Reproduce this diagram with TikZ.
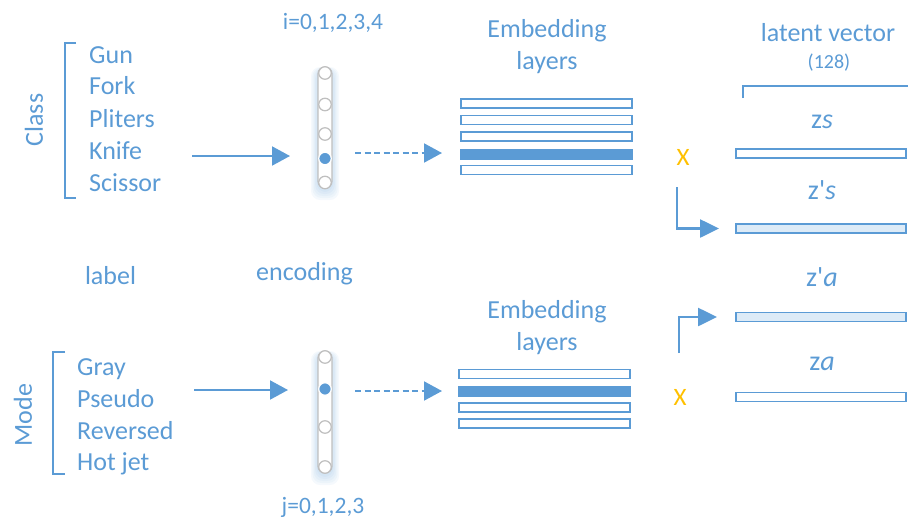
\documentclass[tikz,border=0pt]{standalone}
\usepackage{fontspec}
\setmainfont{Carlito}[Ligatures=TeXOff]
\usetikzlibrary{arrows.meta}
\definecolor{accent}{HTML}{5B9BD5}
\definecolor{lightfill}{HTML}{DDEBF7}
\definecolor{markx}{HTML}{FFC000}
\definecolor{ringgray}{HTML}{BFBFBF}
\begin{document}
\begin{tikzpicture}[x=1pt,y=-1pt,
  txt/.style={text=accent, font=\fontsize{26}{30}\selectfont, inner sep=0pt},
  smalltxt/.style={text=accent, font=\fontsize{23.5}{28}\selectfont, inner sep=0pt},
  ztxt/.style={text=accent, font=\fontsize{28}{32}\selectfont, inner sep=0pt},
  xmark/.style={text=markx, font=\fontsize{25}{30}\selectfont, inner sep=0pt},
  bracket/.style={draw=accent, line width=1.6pt},
  bar/.style={draw=accent, line width=1.5pt, fill=white, inner sep=0pt, outer sep=0pt, minimum height=9pt},
  hotbar/.style={draw=accent, line width=0.5pt, fill=accent, inner sep=0pt, outer sep=0pt, minimum height=10pt},
  latbar/.style={draw=accent, line width=1.5pt, fill=white, inner sep=0pt, outer sep=0pt, minimum width=170pt, minimum height=9pt},
  latbarfill/.style={latbar, fill=lightfill},
  column/.style={draw=ringgray, line width=1.3pt, fill=white, rounded corners=7pt, inner sep=0pt, minimum width=14pt},
  ring/.style={circle, draw=ringgray, line width=1.2pt, fill=white, inner sep=0pt, minimum size=12.5pt},
  ringon/.style={ring, fill=accent, draw=white},
  feed/.style={draw=accent, line width=2pt, -{Triangle[length=18pt, width=19pt]}},
  dashfeed/.style={feed, dash pattern=on 6pt off 3.5pt},
  elbow/.style={draw=accent, line width=2.6pt, -{Triangle[length=19pt, width=18pt]}},
]
\useasboundingbox (0,0) rectangle (908,528);

% ---------- class branch ----------
\node[txt, rotate=90] (classlbl) at (34,120) {Class};
\draw[bracket] (76,43) -- (65,43) -- (65,198) -- (76,198);
\node[txt, anchor=base west] (gun)     at (89,63.3)  {Gun};
\node[txt, anchor=base west] (fork)    at (89,94.8)  {Fork};
\node[txt, anchor=base west] (pliters) at (89,127.3) {Pliters};
\node[txt, anchor=base west] (knife)   at (89,159.3) {Knife};
\node[txt, anchor=base west] (scissor) at (89,191.7) {Scissor};

% one-hot encoding column (i), with a soft blue glow behind it
\foreach \k in {1,...,5}
  \fill[accent, opacity=0.06, rounded corners=9pt]
    (325-7-\k*1.4, 70-\k*0.6) rectangle (325+7+\k*1.4, 190+\k*2);
\node[column, minimum height=121pt] (enc1) at (325,127.5) {};
\node[ring]   (i0) at (325,73)  {};
\node[ring]   (i1) at (325,104.5) {};
\node[ring]   (i2) at (325,134) {};
\node[ringon] (i3) at (325,158.5) {};
\node[ring]   (i4) at (325,182.5) {};
\node[smalltxt, anchor=base] (ilbl) at (333,29) {i=0,1,2,3,4};

\coordinate (s1) at (192,156);
\coordinate (s1e) at (290,156);
\draw[feed] (s1) -- (s1e);
\coordinate (d1) at (355,153);
\coordinate (d1e) at (442,153);
\draw[dashfeed] (d1) -- (d1e);

% embedding table (class)
\node[txt, anchor=base] (emb1a) at (547,37.3) {Embedding};
\node[txt, anchor=base] (emb1b) at (547,69)   {layers};
\node[bar, minimum width=171pt] (e10) at (546.5,103.5) {};
\node[bar, minimum width=171pt] (e11) at (546.5,120)   {};
\node[bar, minimum width=171pt] (e12) at (546.5,136.5) {};
\node[hotbar, minimum width=172pt] (e13) at (546.5,154) {};
\node[bar, minimum width=171pt] (e14) at (546.5,170)   {};

% ---------- latent vectors ----------
\node[txt, anchor=base] (latent) at (828,41) {latent vector};
\node[text=accent, font=\fontsize{20}{24}\selectfont, inner sep=0pt, anchor=base] (dim) at (829,68) {(128)};
\draw[bracket] (743,98) -- (743,86) -- (908,86);

\node[xmark, anchor=base] (x1) at (683,165) {X};
\node[ztxt, anchor=base] (zslbl)  at (822,128.3) {z\textit{s}};
\node[latbar] (zs) at (821,153.5) {};
\node[ztxt, anchor=base] (zpslbl) at (822,199.3) {z'\textit{s}};
\node[latbarfill] (zps) at (821,228.5) {};
\coordinate (t1) at (677,187);
\draw[elbow] (t1) |- ([xshift=-17pt]zps.west);

\node[ztxt, anchor=base] (zpalbl) at (822,286.7) {z'\textit{a}};
\node[latbarfill] (zpa) at (821,317) {};
\node[ztxt, anchor=base] (zalbl)  at (822,370) {z\textit{a}};
\node[latbar] (za) at (821,397) {};
\node[xmark, anchor=base] (x2) at (680,405.7) {X};
\coordinate (t2) at (679,353);
\draw[elbow] (t2) |- ([xshift=-19pt]zpa.west);

% ---------- captions ----------
\node[txt, anchor=base] (labelcap) at (110.5,284) {label};
\node[txt, anchor=base] (enccap)   at (304.5,280.7) {encoding};

% ---------- mode branch ----------
\node[txt, rotate=90] (modelbl) at (23,415) {Mode};
\draw[bracket] (65,352) -- (53,352) -- (53,474) -- (65,474);
\node[txt, anchor=base west] (gray)     at (77,375)   {Gray};
\node[txt, anchor=base west] (pseudo)   at (77,407.3) {Pseudo};
\node[txt, anchor=base west] (reversed) at (77,439.3) {Reversed};
\node[txt, anchor=base west] (hotjet)   at (77,470.7) {Hot jet};

% one-hot encoding column (j), with a soft blue glow behind it
\foreach \k in {1,...,5}
  \fill[accent, opacity=0.06, rounded corners=9pt]
    (325-7-\k*1.4, 354-\k*0.6) rectangle (325+7+\k*1.4, 475+\k*2);
\node[column, minimum height=122pt] (enc2) at (325,412) {};
\node[ring]   (j0) at (325,357) {};
\node[ringon] (j1) at (325,389) {};
\node[ring]   (j2) at (325,427) {};
\node[ring]   (j3) at (325,467) {};
\node[smalltxt, anchor=base] (jlbl) at (323,513.5) {j=0,1,2,3};

\coordinate (s2) at (194,390);
\coordinate (s2e) at (288,390);
\draw[feed] (s2) -- (s2e);
\coordinate (d2) at (355,391);
\coordinate (d2e) at (442,391);
\draw[dashfeed] (d2) -- (d2e);

% embedding table (mode)
\node[txt, anchor=base] (emb2a) at (547,318.3) {Embedding};
\node[txt, anchor=base] (emb2b) at (547,350)   {layers};
\node[bar, minimum width=171pt] (e20) at (544.5,374) {};
\node[hotbar, minimum width=172pt] (e21) at (544.5,391) {};
\node[bar, minimum width=171pt] (e22) at (544.5,407.5) {};
\node[bar, minimum width=171pt] (e23) at (544.5,423.5) {};
\end{tikzpicture}
\end{document}
